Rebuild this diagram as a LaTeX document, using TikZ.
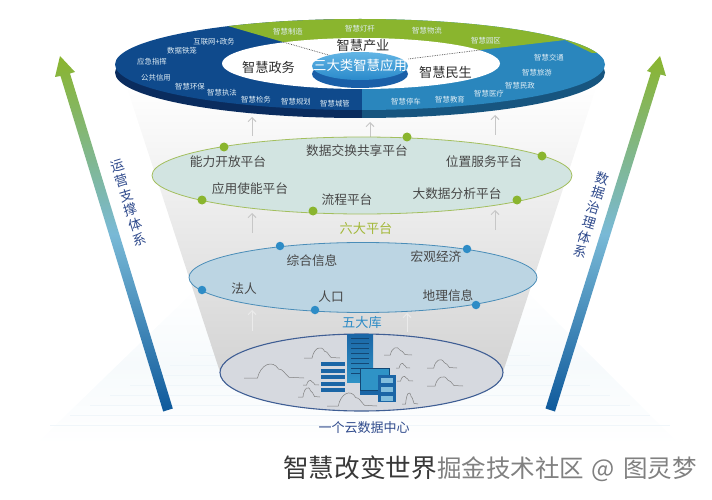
\documentclass[tikz,border=0pt]{standalone}
\usepackage{fontspec}
\setmainfont{Noto Sans CJK SC}
\usetikzlibrary{shapes.geometric,arrows.meta}
\definecolor{navysurf}{HTML}{0F4A8C}
\definecolor{navyrim}{HTML}{0A2C5E}
\definecolor{seasurf}{HTML}{2A86BD}
\definecolor{searim}{HTML}{17557F}
\definecolor{leaf}{HTML}{8AB52E}
\definecolor{platfill}{HTML}{D2E4E1}
\definecolor{platline}{HTML}{A3BF5E}
\definecolor{dbfill}{HTML}{BCD5E3}
\definecolor{dbline}{HTML}{4A8DB8}
\definecolor{dotblue}{HTML}{2E8CC6}
\definecolor{cloudfill}{HTML}{D6D9DF}
\definecolor{cloudedge}{HTML}{3F5E94}
\definecolor{inkblue}{HTML}{2F4A8C}
\definecolor{towerdark}{HTML}{1B66A6}
\definecolor{towerlite}{HTML}{2F93C6}
\definecolor{arrowmid}{HTML}{79B9D6}
\definecolor{arrowfoot}{HTML}{0F5A9C}
\definecolor{gridpale}{HTML}{F6FAFC}
\definecolor{gridlinepale}{HTML}{F0F6FA}
\definecolor{coretop}{HTML}{62B5E5}
\definecolor{corelow}{HTML}{2A8ACB}
\definecolor{corerim}{HTML}{1A5FA8}
\definecolor{olive}{HTML}{A3B83A}
\tikzset{
  lab/.style={text=black!72,font=\fontsize{12.7}{15}\selectfont,inner sep=0pt},
  bold/.style={text=black!82,font=\fontsize{13.2}{15}\selectfont,inner sep=0pt},
  tiny/.style={text=white!85!seasurf,font=\fontsize{7.4}{9}\selectfont,inner sep=0pt},
  layer/.style={ellipse,draw,line width=.8pt,inner sep=0pt},
  greendot/.style={circle,fill=leaf,inner sep=0pt,minimum size=9pt},
  bluedot/.style={circle,fill=dotblue,inner sep=0pt,minimum size=8.5pt},
  uparrow/.style={-{Straight Barb[length=4pt,width=8pt]},line width=1pt},
  sidetext/.style={text=inkblue,align=center,font=\fontsize{13.5}{15.4}\selectfont,inner sep=0pt},
  cloudline/.style={draw=black!50,line width=.5pt},
  gridline/.style={draw=gridlinepale,line width=.5pt},
  bigarrow/.style={top color=leaf,bottom color=arrowfoot,middle color=arrowmid}
}
\begin{document}
\begin{tikzpicture}[x=1pt,y=-1pt]
  \useasboundingbox (0,0) rectangle (712,500);
  % pale grid behind everything
  \shade[top color=white,bottom color=white,middle color=gridpale] (200,285) -- (520,285) -- (680,445) -- (35,445) -- cycle;
  \foreach \y in {295,305,...,425}
    \draw[gridline] (360-\y*2+540,\y) -- (360+\y*2-540,\y);
  % funnel
  \shade[top color=white,bottom color=black!17] (126,85) -- (597,85) -- (503,372) -- (220,372) -- cycle;
  % big arrows
  \shade[bigarrow] (60,56) -- (75,72) -- (70,73.5) -- (172.8,408.5) -- (163.2,411.5) -- (60.5,76) -- (55,77) -- cycle;
  \shade[bigarrow] (660,56) -- (666,76) -- (660.5,74.5) -- (555,411.5) -- (545.5,408.5) -- (651,72.5) -- (647,71) -- cycle;
  \node[sidetext,rotate=17] (opsys) at (128.5,203) {运\\营\\支\\撑\\体\\系};
  \node[sidetext,rotate=-17] (datasys) at (591.5,215) {数\\据\\治\\理\\体\\系};
  % top disc rim
  \begin{scope}
    \clip (360,72.5) ellipse (245 and 45.5);
    \fill[navyrim] (100,20) rectangle (362,125);
    \fill[searim] (362,20) rectangle (620,125);
  \end{scope}
  % top disc surface
  \begin{scope}
    \clip (360,64.5) ellipse (245 and 45.5);
    \fill[navysurf] (100,10) rectangle (362,120);
    \fill[seasurf] (362,10) rectangle (620,120);
    \fill[leaf] (228,26) -- (283,42) -- (360,60) -- (480,50) -- (565,40) -- (592,53) -- (640,53) -- (640,0) -- (228,0) -- cycle;
  \end{scope}
  \fill[white] (361,63.5) ellipse (139 and 25.5);
  \coordinate (seamL) at (283,42);
  \coordinate (seamLin) at (332,56);
  \coordinate (seamR) at (480,50);
  \coordinate (seamRin) at (408,59);
  \draw[black!70,densely dotted,line width=.7pt] (seamL) -- (seamLin);
  \draw[black!70,densely dotted,line width=.7pt] (seamR) -- (seamRin);
  % small disc
  \fill[corerim] (360,74) ellipse (48 and 14);
  \shade[top color=coretop,bottom color=corelow] (360,66) ellipse (48 and 14);
  \node[text=white,font=\fontsize{13.4}{15}\selectfont,inner sep=0pt] (core) at (360,65) {三大类智慧应用};
  \node[bold] (chanye) at (363,46) {智慧产业};
  \node[bold] (zhengwu) at (268.5,67) {智慧政务};
  \node[bold] (minsheng) at (445.5,72) {智慧民生};
  % disc labels
  \foreach \x/\y/\t [count=\i] in {288/32/智慧制造,360/29/智慧灯杆,427/31/智慧物流,486/41/智慧园区,
      214/42/互联网+政务,182/51/数据铁笼,152/62/应急指挥,156/78/公共信用,190/87/智慧环保,
      222/93/智慧执法,256/100/智慧检务,296/102/智慧规划,335/104/智慧城管,
      406/102/智慧停车,450/100/智慧教育,489/94/智慧医疗,520/86/智慧民政,537/73/智慧旅游,549/58/智慧交通}
    \node[tiny] (city\i) at (\x,\y) {\t};
  % grey arrows
  \foreach \x/\a/\b [count=\i] in {252/136/117,370/140/122,495/135/115,252/233/213,495/230/210} {
    \coordinate (ga\i) at (\x,\a);
    \coordinate (gb\i) at (\x,\b);
    \draw[uparrow,black!22] (ga\i) -- (gb\i);
  }
  % six platforms
  \node[layer,draw=platline,fill=platfill,minimum width=420pt,minimum height=77pt] (platforms) at (362,175.5) {};
  \foreach \x/\y [count=\i] in {224/147,407/137,542/156,202/200,313/211,517/200}
    \node[greendot] (pdot\i) at (\x,\y) {};
  \foreach \x/\y/\t [count=\i] in {228/162/能力开放平台,357/151/数据交换共享平台,484/162/位置服务平台,
      250/189/应用使能平台,347/200/流程平台,457/194/大数据分析平台}
    \node[lab] (plat\i) at (\x,\y) {\t};
  \node[bold,text=olive] (platname) at (366,228) {六大平台};
  % five databases
  \node[layer,draw=dbline,fill=dbfill,minimum width=348pt,minimum height=70pt] (bases) at (363,277.5) {};
  \foreach \x/\y [count=\i] in {280/246,467/249,202/290,315/310,476/305}
    \node[bluedot] (bdot\i) at (\x,\y) {};
  \foreach \x/\y/\t [count=\i] in {312/261/综合信息,436/257/宏观经济,244/289/法人,331/297/人口,448/296/地理信息}
    \node[lab] (base\i) at (\x,\y) {\t};
  \node[bold,text=dotblue] (basename) at (362,323) {五大库};
  % white arrows
  \foreach \x/\a/\b [count=\i] in {252/331/310,407/332/313} {
    \coordinate (wa\i) at (\x,\a);
    \coordinate (wb\i) at (\x,\b);
    \draw[uparrow,white!92!black] (wa\i) -- (wb\i);
  }
  % cloud data centre
  \node[layer,draw=cloudedge,fill=cloudfill,line width=1.1pt,minimum width=283pt,minimum height=77pt] (centre) at (361.5,372.5) {};
  \foreach \x/\y/\w/\h in {274/378/30/15,322/358/18/11,398/355/14/8,403/368/7/5,442/368/15/9,445/386/18/10,
      405/381/8/5,311/385/8/5,309/397/11/10,352/406/25/14,410/404/8/12}
    \draw[cloudline,shift={(\x,\y)},xscale=\w,yscale=\h] (-1,0) -- (-.55,0)
      .. controls (-.45,-.9) and (-.05,-1.25) .. (.15,-.6)
      .. controls (.3,-.6) and (.35,-.3) .. (.5,-.05) -- (1,0);
  % servers
  \shade[top color=towerdark,bottom color=towerlite] (347,334) rectangle (373,382);
  \foreach \y in {338,343,...,373}
    \draw[towerdark!70!black,line width=.6pt] (351,\y) -- (369,\y);
  \foreach \y in {362,368.5,...,390}
    \fill[towerdark] (321,\y) rectangle (345,\y+4);
  \fill[towerdark] (360,389) rectangle (378,395);
  \draw[towerdark!70!black,line width=.8pt,fill=towerlite] (360,368) rectangle (389,390);
  \fill[towerdark] (378,375) rectangle (396,402);
  \foreach \y in {378,387,396}
    \fill[towerlite!60!white] (381,\y) rectangle (393,\y+5);
  \node[lab,text=inkblue,font=\fontsize{13}{15}\selectfont] (centrename) at (364,428) {一个云数据中心};
  % footer
  \node[inner sep=0pt,text=black!78,font=\fontsize{25.6}{28}\selectfont,anchor=west] (slogan) at (283,468) {智慧改变世界};
  \node[inner sep=0pt,text=black!50,font=\fontsize{24.5}{28}\selectfont,anchor=west] (mark) at (437,469) {掘金技术社区\hspace{7pt}@\hspace{9pt}图灵梦};
\end{tikzpicture}
\end{document}
